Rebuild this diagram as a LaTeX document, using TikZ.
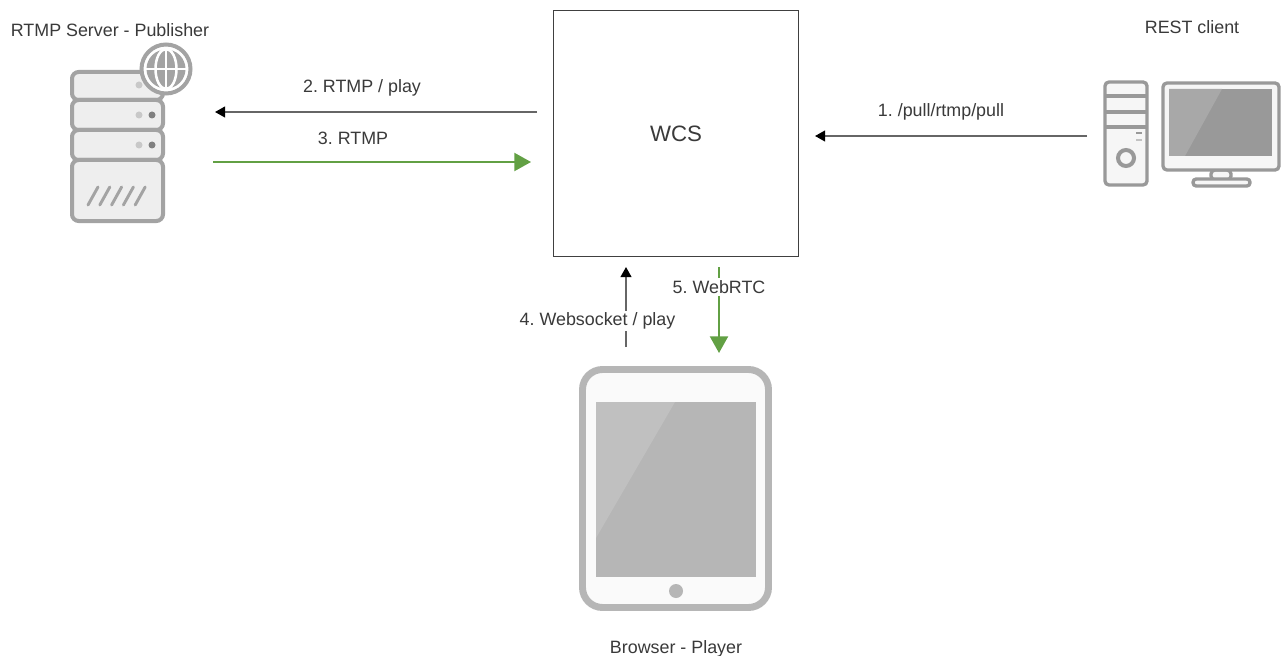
\documentclass[tikz,border=0pt]{standalone}
\usepackage{fontspec}
\setmainfont{Liberation Sans}
\usetikzlibrary{arrows.meta}
\frenchspacing
\definecolor{txt}{HTML}{3A3A3A}
\definecolor{srvline}{HTML}{A3A3A3}
\definecolor{srvfill}{HTML}{EEEEEE}
\definecolor{pcline}{HTML}{999999}
\definecolor{pcfill}{HTML}{F6F6F6}
\definecolor{pclight}{HTML}{A8A8A8}
\definecolor{tabline}{HTML}{B6B6B6}
\definecolor{tabfill}{HTML}{FAFAFA}
\definecolor{tablight}{HTML}{C0C0C0}
\definecolor{flow}{HTML}{62A044}
\tikzset{
  lbl/.style={font=\fontsize{13.4pt}{15pt}\selectfont,text=txt,inner sep=0pt},
  gaplbl/.style={lbl,fill=white,inner ysep=1.5pt,inner xsep=1pt},
  ctrl/.style={draw=black!60,line width=1.4pt,-{Triangle[length=7.5pt,width=8pt,fill=black,color=black]}},
  media/.style={draw=flow,line width=1.6pt,-{Triangle[length=12.5pt,width=13.5pt]}},
  rack/.style={draw=srvline,fill=srvfill,line width=3pt,rounded corners=5pt},
  pcpart/.style={draw=pcline,fill=pcfill,line width=2.5pt,rounded corners=3pt},
  hole/.style={inner sep=0pt,minimum size=0pt}
}
\begin{document}
\begin{tikzpicture}[x=0.75pt,y=-0.75pt]
\useasboundingbox (0,0) rectangle (1281,656);
\fill[white] (0,0) rectangle (1281,656);

% WCS box
\node[draw=black!75,line width=0.9pt,minimum width=183.5pt,minimum height=184pt,inner sep=0pt,lbl,font=\fontsize{16.7pt}{19pt}\selectfont] (wcs) at (676,133.5) {WCS};

% Server icon
\draw[rack] (72,72) rectangle (163,100);
\draw[rack] (72,100) rectangle (163,130);
\draw[rack] (72,130) rectangle (163,160);
\draw[rack] (72,160) rectangle (163,221);
\fill[srvline!60] (139,85) circle (3.5);
\fill[srvline!60] (139,115) circle (3.5);
\fill[black!50] (152,115) circle (3.5);
\fill[srvline!60] (139,145) circle (3.5);
\fill[black!50] (152,145) circle (3.5);
\foreach \i in {0,1,2,3,4}
  \draw[srvline,line width=2.2pt,line cap=round] (88+11.8*\i,205) -- (98+11.8*\i,187);
\draw[srvline,fill=white,line width=3pt] (166,69) circle (24.5);
\fill[srvline] (166,69) circle (19.5);
\draw[white,line width=1.9pt] (146,69) -- (186,69);
\draw[white,line width=1.9pt] (166,49) -- (166,89);
\draw[white,line width=1.9pt] (166,69) ellipse (10.5 and 20);
\node[hole] (server) at (117,146) {};

% PC icon
\draw[pcpart] (1105,82) rectangle (1147,185);
\draw[pcline,line width=2.3pt] (1105,96) -- (1147,96) (1105,112) -- (1147,112) (1105,127) -- (1147,127);
\draw[pcline,line width=3pt,fill=pcfill] (1126,158) circle (8);
\draw[pcline,line width=1.8pt] (1136,133) -- (1142,133);
\draw[pcline!60,line width=1.8pt] (1136,140) -- (1142,140);
\draw[pcpart] (1211,170) rectangle (1231,180);
\draw[pcpart,rounded corners=2.4pt] (1193,179) rectangle (1250,186);
\draw[pcpart] (1163,83) rectangle (1279,170);
\fill[pcline] (1169,89) rectangle (1272,156);
\fill[pclight] (1169,89) -- (1222,89) -- (1185,156) -- (1169,156) -- cycle;
\node[hole] (client) at (1190,134) {};

% Tablet icon
\draw[tabline,fill=tabfill,line width=5.2pt,rounded corners=15pt] (582.5,369.5) rectangle (768.5,607.5);
\fill[tabline] (596,402) rectangle (756,577);
\fill[tablight] (596,402) -- (675,402) -- (596,538) -- cycle;
\fill[tabline] (676,591) circle (7);
\node[hole] (tablet) at (676,488) {};

% Connector ends
\coordinate (c2a) at (537,112);
\coordinate (c2b) at (215,112);
\coordinate (c3a) at (213,162);
\coordinate (c3b) at (531,162);
\coordinate (c1a) at (1087,136);
\coordinate (c1b) at (815,136);
\coordinate (c4a) at (626,347);
\coordinate (c4b) at (626,267);
\coordinate (c5a) at (719,267);
\coordinate (c5b) at (719,353);

\draw[ctrl] (c1a) -- (c1b);
\draw[ctrl] (c2a) -- (c2b);
\draw[media] (c3a) -- (c3b);
\draw[ctrl] (c4a) -- (c4b);
\draw[media] (c5a) -- (c5b);

% Labels
\node[lbl] at (110,30) {RTMP Server - Publisher};
\node[lbl] at (1192,27) {REST client};
\node[lbl] at (676,648.5) {Browser - Player};
\node[lbl] at (362,88) {2. RTMP / play};
\node[lbl] at (353,138) {3. RTMP};
\node[lbl] at (941,112) {1. /pull/rtmp/pull};
\node[gaplbl] at (597.5,321) {4. Websocket / play};
\node[gaplbl] at (719,287) {5. WebRTC};
\end{tikzpicture}
\end{document}
